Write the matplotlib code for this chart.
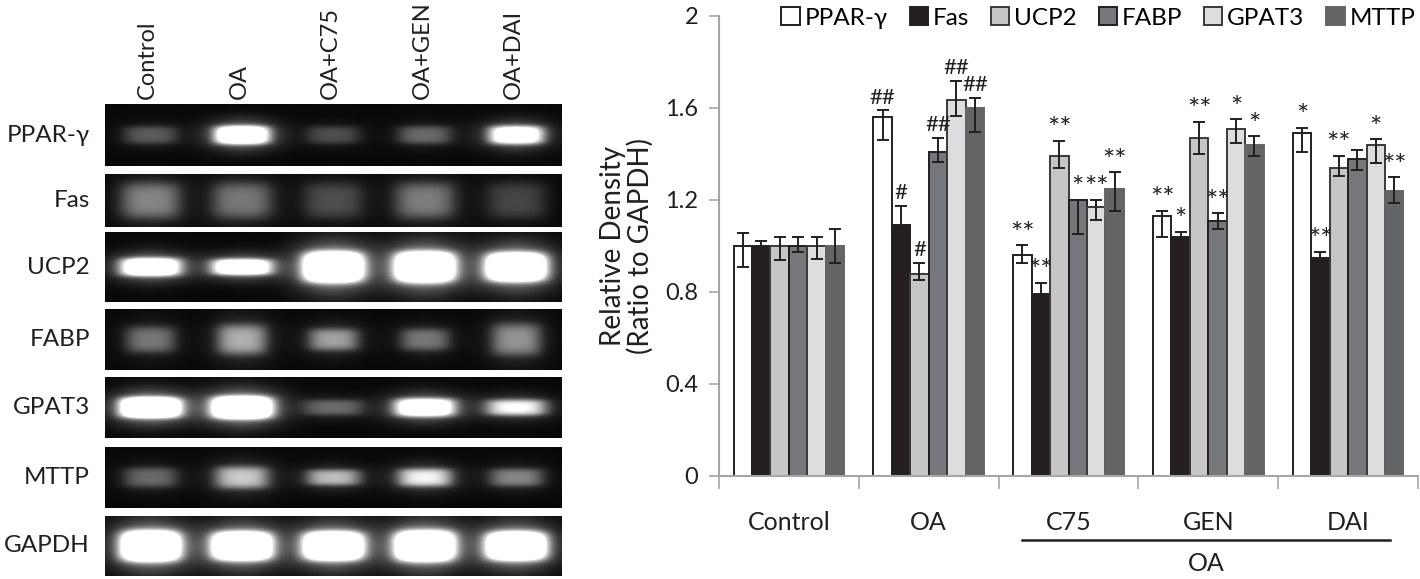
import numpy as np
import matplotlib
matplotlib.use('Agg')
from matplotlib import pyplot as plt

plt.rcParams['font.family'] = ['Lato', 'DejaVu Sans']

# ---- gel panel data (band brightness, >1 = saturated)
lanes = ['Control', 'OA', 'OA+C75', 'OA+GEN', 'OA+DAI']
gel_genes = ['PPAR-γ', 'Fas', 'UCP2', 'FABP', 'GPAT3', 'MTTP', 'GAPDH']
band_level = [
    [0.30, 1.60, 0.25, 0.35, 1.30],
    [0.45, 0.40, 0.25, 0.42, 0.22],
    [1.50, 1.40, 2.00, 2.00, 2.00],
    [0.40, 0.60, 0.55, 0.40, 0.50],
    [2.00, 2.00, 0.35, 1.40, 0.90],
    [0.35, 0.70, 0.65, 0.85, 0.45],
    [2.00, 2.00, 2.00, 2.00, 2.00],
]
band_halfh = [
    [9, 9, 9, 9, 9],
    [18, 18, 18, 18, 18],
    [9, 8, 15, 15, 14],
    [13, 15, 11, 11, 16],
    [10, 11, 8, 9, 8],
    [10, 11, 8, 9, 9],
    [15, 14, 14, 15, 14],
]
band_halfw = [27, 30, 30, 25, 30, 27, 30]

# ---- bar chart data
groups = ['Control', 'OA', 'C75', 'GEN', 'DAI']
series = ['PPAR-γ', 'Fas', 'UCP2', 'FABP', 'GPAT3', 'MTTP']
ppar = [1.00, 1.56, 0.96, 1.13, 1.49]
fas = [1.00, 1.09, 0.79, 1.04, 0.95]
ucp2 = [1.00, 0.88, 1.39, 1.47, 1.34]
fabp = [1.00, 1.41, 1.20, 1.11, 1.38]
gpat3 = [1.00, 1.635, 1.17, 1.51, 1.44]
mttp = [1.00, 1.60, 1.25, 1.44, 1.24]

ppar_lo = [0.09, 0.10, 0.033, 0.09, 0.08]
ppar_hi = [0.055, 0.03, 0.043, 0.024, 0.023]
fas_lo = [0.02, 0.085, 0.05, 0.02, 0.026]
fas_hi = [0.02, 0.085, 0.05, 0.02, 0.026]
ucp2_lo = [0.06, 0.029, 0.053, 0.071, 0.035]
ucp2_hi = [0.04, 0.048, 0.067, 0.069, 0.052]
fabp_lo = [0.026, 0.044, 0.146, 0.036, 0.051]
fabp_hi = [0.038, 0.061, 0.0, 0.032, 0.039]
gpat3_lo = [0.055, 0.07, 0.057, 0.062, 0.081]
gpat3_hi = [0.038, 0.084, 0.03, 0.041, 0.024]
mttp_lo = [0.075, 0.106, 0.097, 0.05, 0.053]
mttp_hi = [0.075, 0.043, 0.07, 0.037, 0.058]

marks_ppar = ['', '##', '**', '**', '*']
marks_fas = ['', '#', '**', '*', '**']
marks_ucp2 = ['', '#', '**', '**', '**']
marks_fabp = ['', '##', '*', '**', '']
marks_gpat3 = ['', '##', '**', '*', '*']
marks_mttp = ['', '##', '**', '*', '**']

colors = ['white', '#231f20', '#c6c6c6', '#76777a', '#dcdddf', '#636466']
edges = ['#231f20', '#231f20', '#3a3a3a', '#231f20', '#3a3a3a', '#636466']

fig = plt.figure(figsize=(14.2, 5.79), dpi=100)

# ---------------- gel panel, drawn in pixel coordinates
gax = fig.add_axes([0, 0, 600 / 1420, 1])
gax.set_xlim(0, 600)
gax.set_ylim(579, 0)
gax.axis('off')

strip_x0, strip_x1 = 105, 562
strip_rows = [(104, 166), (174, 227), (232, 302), (309, 370),
              (377, 438), (447, 508), (516, 576)]
lane_step = (strip_x1 - strip_x0) / len(lanes)
lane_cx = [strip_x0 + lane_step * (i + 0.5) for i in range(len(lanes))]

for r, (top, bot) in enumerate(strip_rows):
    xx, yy = np.meshgrid(np.arange(strip_x0, strip_x1) + 0.5,
                         np.arange(top, bot) + 0.5)
    cy = (top + bot) / 2
    img = np.full(xx.shape, 0.03)
    for k, cx in enumerate(lane_cx):
        wx = band_halfw[r]
        wy = band_halfh[r][k]
        dx = (xx - cx) / wx
        dy = (yy - cy) / wy
        core = np.exp(-(dx ** 4 + dy ** 4))
        glow = np.exp(-((dx / 1.25) ** 2 + (dy / 1.6) ** 2))
        img += band_level[r][k] * (0.75 * core + 0.35 * glow)
    gax.imshow(np.clip(img, 0, 1), cmap='gray', vmin=0, vmax=1,
               extent=(strip_x0, strip_x1, bot, top), aspect='auto',
               interpolation='bilinear')
    gax.text(90, cy, gel_genes[r], ha='right', va='center', fontsize=17.5,
             color='#231f20')

for k, cx in enumerate(lane_cx):
    gax.text(cx - 3, 99, lanes[k], rotation=90, ha='center', va='bottom',
             fontsize=17, color='#231f20')

# ---------------- bar chart
ax = fig.add_axes([719 / 1420, 103 / 579, 699 / 1420, 460 / 579])
values = [ppar, fas, ucp2, fabp, gpat3, mttp]
lows = [ppar_lo, fas_lo, ucp2_lo, fabp_lo, gpat3_lo, mttp_lo]
highs = [ppar_hi, fas_hi, ucp2_hi, fabp_hi, gpat3_hi, mttp_hi]
marks = [marks_ppar, marks_fas, marks_ucp2, marks_fabp, marks_gpat3, marks_mttp]

x = np.arange(len(groups))
width = 0.132
for i, name in enumerate(series):
    pos = x + (i - 2.5) * width
    ax.bar(pos, values[i], width, color=colors[i], edgecolor=edges[i],
           linewidth=1.4, label=name, zorder=2)
    ax.errorbar(pos, values[i], yerr=[lows[i], highs[i]], fmt='none',
                ecolor='#231f20', elinewidth=1.4, capsize=4, capthick=1.4,
                zorder=3)
    for j in range(len(groups)):
        m = marks[i][j]
        if not m:
            continue
        top = values[i][j] + highs[i][j]
        if '*' in m:
            ax.text(pos[j], top - 0.01, m, ha='center', va='bottom',
                    fontsize=21, color='#231f20')
        else:
            ax.text(pos[j], top + 0.012, m, ha='center', va='bottom',
                    fontsize=16, color='#231f20')

ax.set_xlim(-0.5, 4.5)
ax.set_ylim(0, 2)
ax.set_yticks([0, 0.4, 0.8, 1.2, 1.6, 2])
ax.set_yticklabels(['0', '0.4', '0.8', '1.2', '1.6', '2'])
ax.set_xticks(np.arange(-0.5, 5, 1))
ax.set_xticklabels([])
ax.tick_params(axis='y', length=7, width=1.2, color='#a6a6a6', labelsize=17,
               pad=8, labelcolor='#231f20')
ax.tick_params(axis='x', length=9, width=1.2, color='#a6a6a6')
for side in ['top', 'right']:
    ax.spines[side].set_visible(False)
for side in ['left', 'bottom']:
    ax.spines[side].set_color('#a6a6a6')
    ax.spines[side].set_linewidth(1.5)
ax.set_ylabel('Relative Density\n(Ratio to GAPDH)', fontsize=20,
              color='#231f20', labelpad=8, linespacing=1.05)

for j, g in enumerate(groups):
    ax.text(x[j], -0.1, g, transform=ax.get_xaxis_transform(), ha='center',
            va='center', fontsize=18, color='#231f20')
ax.plot([1.67, 4.30], [-0.14, -0.14], transform=ax.get_xaxis_transform(),
        color='#231f20', linewidth=1.8, clip_on=False)
ax.text(2.985, -0.19, 'OA', transform=ax.get_xaxis_transform(), ha='center',
        va='center', fontsize=18, color='#231f20')

ax.legend(ncol=6, loc='upper right', bbox_to_anchor=(1.01, 1.04),
          frameon=False, fontsize=17.5, handlelength=0.75, handleheight=0.75,
          handletextpad=0.2, columnspacing=0.9, borderaxespad=0)

fig.savefig('out.png', dpi=100)
